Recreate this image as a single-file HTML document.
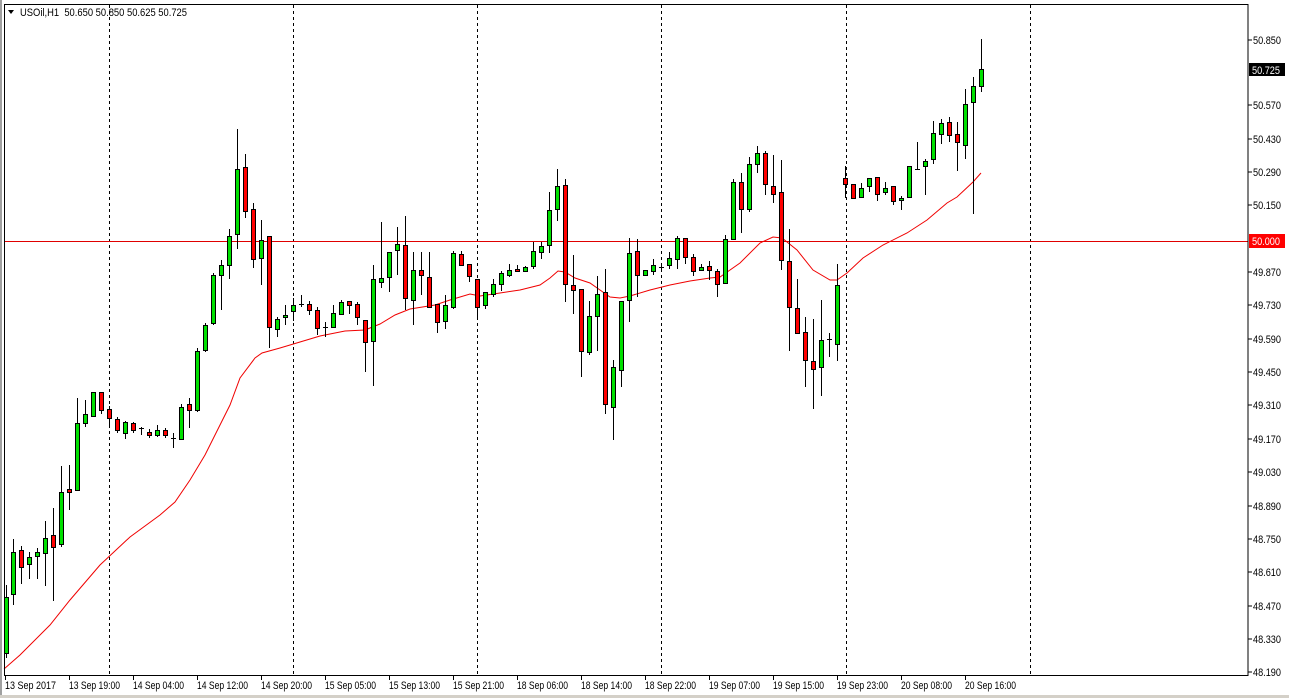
<!DOCTYPE html>
<html><head><meta charset="utf-8"><style>
html,body{margin:0;padding:0;background:#fff;}
svg{display:block;font-family:"Liberation Sans",sans-serif;font-size:11px;}
</style></head><body>
<svg id="s" width="1289" height="698" viewBox="0 0 1289 698" xmlns="http://www.w3.org/2000/svg">
<rect x="0" y="0" width="1289" height="698" fill="#fff"/>
<rect x="0" y="0" width="2" height="698" fill="#a0a0a0"/>
<rect x="0" y="695" width="1289" height="3" fill="#d4d0c8"/>
<g stroke="#000" stroke-dasharray="3,3" stroke-width="1">
<line x1="109.5" y1="5" x2="109.5" y2="675"/><line x1="293.5" y1="5" x2="293.5" y2="675"/>
<line x1="477.5" y1="5" x2="477.5" y2="675"/><line x1="661.5" y1="5" x2="661.5" y2="675"/>
<line x1="846.5" y1="5" x2="846.5" y2="675"/><line x1="1030.5" y1="5" x2="1030.5" y2="675"/>
</g>
<line x1="4" y1="241.5" x2="1248" y2="241.5" stroke="#e00000" stroke-width="1"/>
<polyline fill="none" stroke="#f00000" stroke-width="1" points="4,669 20,655 50,625 70,600 100,565 130,537 160,515 175,502 190,480 205,455 230,405 240,378 255,358 262,353 280,348 300,342 320,336 345,331 365,330 380,324 395,315 410,309 435,305 450,300 470,294 480,296 500,293 520,290 540,285 550,278 558,271 565,272 575,278 590,283 600,290 610,297 620,298 630,296 650,290 670,285 690,281 710,278 720,277 740,263 760,243 773,237 782,238 797,250 813,270 830,280 837,280 847,273 863,258 883,245 907,233 927,220 947,203 957,197 973,182 981,173"/>
<g id="c"></g>
<rect x="4.5" y="4.5" width="1243.5" height="671" fill="none" stroke="#000" stroke-width="1"/>
<g stroke="#000">
<line x1="1248" y1="40" x2="1252" y2="40"/><line x1="1248" y1="105" x2="1252" y2="105"/><line x1="1248" y1="139" x2="1252" y2="139"/><line x1="1248" y1="172" x2="1252" y2="172"/><line x1="1248" y1="205" x2="1252" y2="205"/><line x1="1248" y1="272" x2="1252" y2="272"/><line x1="1248" y1="305" x2="1252" y2="305"/><line x1="1248" y1="339" x2="1252" y2="339"/><line x1="1248" y1="372" x2="1252" y2="372"/><line x1="1248" y1="405" x2="1252" y2="405"/><line x1="1248" y1="439" x2="1252" y2="439"/><line x1="1248" y1="472" x2="1252" y2="472"/><line x1="1248" y1="506" x2="1252" y2="506"/><line x1="1248" y1="539" x2="1252" y2="539"/><line x1="1248" y1="572" x2="1252" y2="572"/><line x1="1248" y1="606" x2="1252" y2="606"/><line x1="1248" y1="639" x2="1252" y2="639"/><line x1="1248" y1="672" x2="1252" y2="672"/>
</g>
<g fill="#000" lengthAdjust="spacingAndGlyphs">
<text x="1253" y="44" textLength="28" lengthAdjust="spacingAndGlyphs">50.850</text><text x="1253" y="109" textLength="28" lengthAdjust="spacingAndGlyphs">50.570</text><text x="1253" y="143" textLength="28" lengthAdjust="spacingAndGlyphs">50.430</text><text x="1253" y="176" textLength="28" lengthAdjust="spacingAndGlyphs">50.290</text><text x="1253" y="209" textLength="28" lengthAdjust="spacingAndGlyphs">50.150</text><text x="1253" y="276" textLength="28" lengthAdjust="spacingAndGlyphs">49.870</text><text x="1253" y="309" textLength="28" lengthAdjust="spacingAndGlyphs">49.730</text><text x="1253" y="343" textLength="28" lengthAdjust="spacingAndGlyphs">49.590</text><text x="1253" y="376" textLength="28" lengthAdjust="spacingAndGlyphs">49.450</text><text x="1253" y="409" textLength="28" lengthAdjust="spacingAndGlyphs">49.310</text><text x="1253" y="443" textLength="28" lengthAdjust="spacingAndGlyphs">49.170</text><text x="1253" y="476" textLength="28" lengthAdjust="spacingAndGlyphs">49.030</text><text x="1253" y="510" textLength="28" lengthAdjust="spacingAndGlyphs">48.890</text><text x="1253" y="543" textLength="28" lengthAdjust="spacingAndGlyphs">48.750</text><text x="1253" y="576" textLength="28" lengthAdjust="spacingAndGlyphs">48.610</text><text x="1253" y="610" textLength="28" lengthAdjust="spacingAndGlyphs">48.470</text><text x="1253" y="643" textLength="28" lengthAdjust="spacingAndGlyphs">48.330</text><text x="1253" y="676" textLength="28" lengthAdjust="spacingAndGlyphs">48.190</text>
</g>
<rect x="1249" y="63" width="36" height="13" fill="#000"/>
<text x="1252" y="74" fill="#fff" textLength="28" lengthAdjust="spacingAndGlyphs">50.725</text>
<rect x="1249" y="234" width="36" height="14" fill="#ff0000"/>
<text x="1252" y="245" fill="#fff" textLength="28" lengthAdjust="spacingAndGlyphs">50.000</text>
<g stroke="#000">
<line x1="5.5" y1="675" x2="5.5" y2="680"/><line x1="69.5" y1="675" x2="69.5" y2="680"/><line x1="133.5" y1="675" x2="133.5" y2="680"/><line x1="197.5" y1="675" x2="197.5" y2="680"/><line x1="261.5" y1="675" x2="261.5" y2="680"/><line x1="325.5" y1="675" x2="325.5" y2="680"/><line x1="389.5" y1="675" x2="389.5" y2="680"/><line x1="453.5" y1="675" x2="453.5" y2="680"/><line x1="517.5" y1="675" x2="517.5" y2="680"/><line x1="581.5" y1="675" x2="581.5" y2="680"/><line x1="645.5" y1="675" x2="645.5" y2="680"/><line x1="709.5" y1="675" x2="709.5" y2="680"/><line x1="773.5" y1="675" x2="773.5" y2="680"/><line x1="837.5" y1="675" x2="837.5" y2="680"/><line x1="901.5" y1="675" x2="901.5" y2="680"/><line x1="965.5" y1="675" x2="965.5" y2="680"/>
</g>
<g fill="#000">
<text x="5" y="689" textLength="51" lengthAdjust="spacingAndGlyphs">13 Sep 2017</text><text x="69" y="689" textLength="51" lengthAdjust="spacingAndGlyphs">13 Sep 19:00</text><text x="133" y="689" textLength="51" lengthAdjust="spacingAndGlyphs">14 Sep 04:00</text><text x="197" y="689" textLength="51" lengthAdjust="spacingAndGlyphs">14 Sep 12:00</text><text x="261" y="689" textLength="51" lengthAdjust="spacingAndGlyphs">14 Sep 20:00</text><text x="325" y="689" textLength="51" lengthAdjust="spacingAndGlyphs">15 Sep 05:00</text><text x="389" y="689" textLength="51" lengthAdjust="spacingAndGlyphs">15 Sep 13:00</text><text x="453" y="689" textLength="51" lengthAdjust="spacingAndGlyphs">15 Sep 21:00</text><text x="517" y="689" textLength="51" lengthAdjust="spacingAndGlyphs">18 Sep 06:00</text><text x="581" y="689" textLength="51" lengthAdjust="spacingAndGlyphs">18 Sep 14:00</text><text x="645" y="689" textLength="51" lengthAdjust="spacingAndGlyphs">18 Sep 22:00</text><text x="709" y="689" textLength="51" lengthAdjust="spacingAndGlyphs">19 Sep 07:00</text><text x="773" y="689" textLength="51" lengthAdjust="spacingAndGlyphs">19 Sep 15:00</text><text x="837" y="689" textLength="51" lengthAdjust="spacingAndGlyphs">19 Sep 23:00</text><text x="901" y="689" textLength="51" lengthAdjust="spacingAndGlyphs">20 Sep 08:00</text><text x="965" y="689" textLength="51" lengthAdjust="spacingAndGlyphs">20 Sep 16:00</text>
</g>
<path d="M8,10 L14,10 L11,14 Z" fill="#000"/>
<text x="20" y="16" fill="#000" textLength="167" lengthAdjust="spacingAndGlyphs" xml:space="preserve">USOil,H1  50.650 50.850 50.625 50.725</text>
</svg>
<script>
var d=[[6,653,597,585,658],[13,594,552,539,605],[21,550,567,546,584],[29,564,557,552,579],[37,556,552,548,579],[45,553,538,521,586],[53,535,547,508,601],[61,544,492,466,547],[69,489,492,465,510],[77,490,423,398,490],[85,423,414,400,427],[93,416,392,392,416],[101,392,410,392,414],[109,409,418,406,427],[117,419,430,417,433],[125,433,422,421,439],[133,423,430,422,433],[141,428,428,427,435],[149,432,435,429,438],[157,435,430,425,437],[165,430,435,428,438],[173,438,438,433,448],[181,439,407,404,439],[189,404,410,398,428],[197,410,351,348,412],[205,350,325,323,352],[213,323,275,273,325],[221,275,265,260,310],[229,265,236,229,279],[237,234,169,129,249],[245,167,211,154,218],[253,209,259,203,268],[261,258,240,220,285],[269,236,327,236,348],[277,329,319,317,337],[285,317,315,305,325],[293,311,305,298,321],[301,304,304,295,307],[309,304,310,301,315],[317,310,328,307,335],[325,327,327,322,337],[333,327,313,305,328],[341,314,302,300,314],[349,301,305,301,314],[357,304,317,302,325],[365,320,342,320,372],[373,341,279,265,386],[381,282,278,222,288],[389,277,252,252,292],[397,250,244,227,275],[405,245,298,216,310],[413,300,270,252,325],[421,270,275,252,295],[429,277,307,252,308],[437,304,322,304,333],[445,321,305,295,329],[453,307,253,251,309],[461,254,265,251,266],[469,264,276,264,282],[477,279,307,279,318],[485,305,292,292,309],[493,294,284,279,297],[501,284,273,271,291],[509,275,270,264,277],[517,269,271,265,272],[525,271,267,266,272],[533,266,251,242,269],[541,252,246,242,259],[549,245,210,192,253],[557,209,186,169,221],[565,185,284,179,302],[573,285,290,255,314],[581,289,351,289,377],[589,352,316,301,355],[597,316,294,276,351],[605,292,404,269,414],[613,407,367,360,440],[621,370,301,301,387],[629,300,253,238,322],[637,251,275,239,297],[645,275,270,270,276],[653,271,265,259,275],[661,267,267,263,270],[669,265,258,252,269],[677,259,238,236,269],[685,238,257,238,264],[693,257,271,254,276],[701,270,267,264,271],[709,266,270,261,280],[717,271,284,269,297],[725,283,239,235,283],[733,239,182,179,239],[741,182,209,173,233],[749,209,164,157,212],[757,164,153,146,173],[765,153,184,151,195],[773,186,194,155,203],[781,192,260,160,270],[789,261,307,229,351],[797,308,333,279,333],[805,332,360,317,387],[813,361,369,319,409],[821,367,340,300,396],[829,339,339,333,357],[837,344,285,264,361],[845,178,184,166,198],[853,184,198,184,198],[861,197,188,183,198],[869,186,178,178,192],[877,177,194,177,201],[885,192,188,182,195],[893,186,201,186,205],[901,200,198,196,210],[909,197,166,166,197],[917,169,169,142,169],[925,166,161,159,195],[933,159,133,121,164],[941,134,123,119,144],[949,122,135,117,142],[957,134,142,122,171],[965,145,104,89,159],[973,102,86,77,214],[981,86,69,39,92]];
var g=document.getElementById('c'),h='';
d.forEach(function(c){var x=c[0],o=c[1],cl=c[2],hi=c[3],lo=c[4];
h+='<line x1="'+(x+.5)+'" y1="'+hi+'" x2="'+(x+.5)+'" y2="'+lo+'" stroke="#000"/>';
var t=Math.min(o,cl),b=Math.max(o,cl);
if(b-t<1){h+='<line x1="'+(x-2)+'" y1="'+(t+.5)+'" x2="'+(x+3)+'" y2="'+(t+.5)+'" stroke="#000"/>';}
else{h+='<rect x="'+(x-1.5)+'" y="'+(t+.5)+'" width="4" height="'+(b-t)+'" fill="'+(cl<o?'#00e000':'#ff0000')+'" stroke="#000"/>';}
});
g.innerHTML=h;
</script>
</body></html>
